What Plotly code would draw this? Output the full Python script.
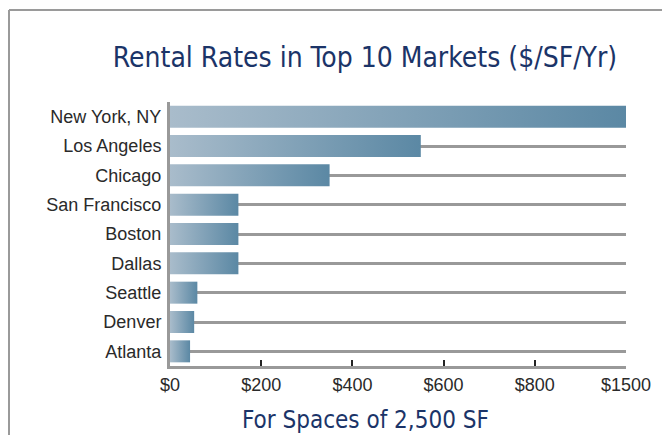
import plotly.graph_objects as go

# ---- data ----
markets = ["New York, NY", "Los Angeles", "Chicago", "San Francisco", "Boston",
           "Dallas", "Seattle", "Denver", "Atlanta"]
rates = [1500, 550, 350, 150, 150, 150, 60, 53, 44]
tick_values = [0, 200, 400, 600, 800, 1000]
tick_labels = ["$0", "$200", "$400", "$600", "$800", "$1500"]

title_text = "Rental Rates in Top 10 Markets ($/SF/Yr)"
subtitle_text = "For Spaces of 2,500 SF"

# ---- layout geometry (window pixels; page body has an 8px margin) ----
OFF = 8
WIN_W, WIN_H = 670, 443
W, H = WIN_W - 2 * OFF, WIN_H - 2 * OFF
PL, PR, PT, PB = 170, 626, 102, 366          # plot area in window pixels
L, T = PL - OFF, PT - OFF
R, B = (WIN_W - OFF) - PR, (WIN_H - OFF) - PB
PW, PH = PR - PL, PB - PT
XMAX = tick_values[-1]


def px_x(px):
    return (px - PL) / PW


def px_y(py):
    return (PB - py) / PH


COND = "Liberation Sans Narrow, DejaVu Sans Condensed, Arial Narrow, sans-serif"
NAVY = "#1b3468"
half = 0.375

fig = go.Figure()
for i, (name, v) in enumerate(zip(markets, rates)):
    fig.add_trace(go.Scatter(
        x=[0, v, v, 0, 0],
        y=[i - half, i - half, i + half, i + half, i - half],
        mode="lines", fill="toself",
        line=dict(width=0),
        fillgradient=dict(type="horizontal", start=0, stop=min(v, XMAX),
                          colorscale=[[0, "#a9bccb"], [1, "#5b88a4"]]),
        name=name, showlegend=False, hoverinfo="skip",
    ))

fig.update_layout(
    width=W, height=H,
    margin=dict(l=L, r=R, t=T, b=B, pad=0),
    paper_bgcolor="white", plot_bgcolor="white",
    title=dict(text=title_text, xref="container", x=(365 - OFF) / W, xanchor="center",
               yref="container", y=1 - (57 - OFF) / H, yanchor="middle",
               font=dict(family=COND, size=28, color=NAVY)),
    xaxis=dict(range=[0, XMAX], tickvals=tick_values, ticktext=tick_labels,
               showgrid=False, zeroline=False,
               showline=True, linecolor="#999999", linewidth=3,
               ticks="inside", ticklen=6, tickwidth=2, tickcolor="#222222",
               tickfont=dict(family="Liberation Sans, Arial, sans-serif", size=18, color="#2a2a2a"),
               fixedrange=True),
    yaxis=dict(range=[len(markets) - 0.5, -0.5],
               tickvals=list(range(len(markets))), ticktext=markets,
               showgrid=True, gridcolor="#999999", gridwidth=3,
               zeroline=False, showline=True, linecolor="#999999", linewidth=3,
               ticks="", ticklabelstandoff=2,
               tickfont=dict(family="Liberation Sans, Arial, sans-serif", size=18, color="#2a2a2a"),
               fixedrange=True),
    annotations=[dict(text=subtitle_text, xref="paper", yref="paper",
                      x=px_x(365), y=px_y(420), xanchor="center", yanchor="middle",
                      showarrow=False, font=dict(family=COND, size=24, color=NAVY))],
    shapes=[
        dict(type="line", xref="paper", yref="paper", x0=px_x(9), x1=px_x(9),
             y0=px_y(10), y1=px_y(WIN_H), line=dict(color="#9a9a9a", width=2), layer="below"),
        dict(type="line", xref="paper", yref="paper", x0=px_x(9), x1=px_x(WIN_W),
             y0=px_y(10), y1=px_y(10), line=dict(color="#9a9a9a", width=2), layer="below"),
    ],
)

fig.write_html("out.html")
